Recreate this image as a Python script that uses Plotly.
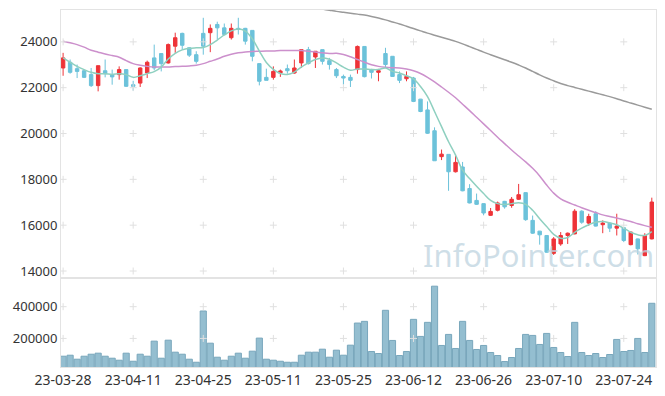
import plotly.graph_objects as go

dates = ["23-03-28","23-03-29","23-03-30","23-03-31","23-04-03","23-04-04","23-04-05","23-04-06","23-04-07","23-04-10",
         "23-04-11","23-04-12","23-04-13","23-04-14","23-04-17","23-04-18","23-04-19","23-04-20","23-04-21","23-04-24",
         "23-04-25","23-04-26","23-04-27","23-04-28","23-05-02","23-05-03","23-05-04","23-05-08","23-05-09","23-05-10",
         "23-05-11","23-05-12","23-05-15","23-05-16","23-05-17","23-05-18","23-05-19","23-05-22","23-05-23","23-05-24",
         "23-05-25","23-05-26","23-05-30","23-05-31","23-06-01","23-06-02","23-06-05","23-06-07","23-06-08","23-06-09",
         "23-06-12","23-06-13","23-06-14","23-06-15","23-06-16","23-06-19","23-06-20","23-06-21","23-06-22","23-06-23",
         "23-06-26","23-06-27","23-06-28","23-06-29","23-06-30","23-07-03","23-07-04","23-07-05","23-07-06","23-07-07",
         "23-07-10","23-07-11","23-07-12","23-07-13","23-07-14","23-07-17","23-07-18","23-07-19","23-07-20","23-07-21",
         "23-07-24","23-07-25","23-07-26","23-07-27","23-07-28"]

open_ = [22860,23110,22830,22740,22570,22090,22740,22570,22570,22790,
         22130,22200,22640,23300,23490,23080,23810,24370,23740,23440,
         24370,24400,24760,24610,24180,24590,24590,24500,23050,22450,
         22450,22640,22830,22640,23080,23660,23340,23660,23180,22790,
         22490,22450,22790,23800,22790,22670,23490,23370,22570,22390,
         22420,21500,21030,20120,18990,19090,18330,18540,17600,17080,
         16940,16430,16650,17040,16860,17130,17420,16210,15740,15550,
         14770,15180,15550,15620,16610,16090,16500,16020,16090,15870,
         15890,15150,15400,14670,15400]
high = [23520,23230,23010,22790,22860,22960,23230,22790,22930,22790,
        22300,22890,23180,23880,23490,23930,24400,24400,23770,23590,
        25050,24760,24880,24800,24800,25050,24610,24500,23050,22830,
        22930,22790,23010,23230,23660,23780,23590,23660,23300,22860,
        22570,22570,23840,23800,22820,22820,23740,23370,22710,22710,
        22470,21510,21400,20270,19300,19090,19100,18760,17790,17380,
        16950,16750,17030,17060,17230,17800,17430,16420,15750,15560,
        15480,15700,15680,16700,16650,16500,16610,16210,16120,16500,
        15900,15720,15420,15650,17200]
low = [22520,22610,22420,22420,22030,21840,22450,22130,22350,22030,
       21870,22030,22420,22760,22710,23050,23520,23660,23340,23050,
       23440,23550,24100,24280,24100,24320,23880,23150,22100,22320,
       22350,22470,22610,22610,22860,23010,22860,23010,22790,22420,
       22130,22030,22610,22450,22400,22280,22860,22470,22200,22280,
       21370,20930,19980,18810,18840,17500,18300,17480,16950,16880,
       16430,16400,16600,16720,16760,17100,16190,15620,15150,14800,
       14700,15100,15180,15600,16060,15970,15940,15650,15700,15550,
       15260,15120,14720,14650,15380]
close = [23300,22670,22710,22450,22090,22960,22610,22470,22790,22060,
         22060,22860,23110,22860,23050,23880,24180,23850,23420,23150,
         23810,24590,24610,24320,24590,24540,24030,23370,22280,22320,
         22710,22730,22740,22860,23660,23050,23590,23150,23010,22520,
         22420,22320,23800,22480,22670,22740,23010,22490,22320,22490,
         21400,20960,20010,18810,19100,18330,18740,17500,16970,16910,
         16530,16600,16970,16800,17130,17330,16240,15650,15580,14820,
         15400,15550,15650,16610,16130,16380,15960,16090,15870,15960,
         15330,15700,14970,15550,17010]
volume = [88000,94300,69000,88000,100600,107000,88000,75300,62700,107000,
          56300,100600,88000,183000,75300,189000,113300,100600,69000,50000,
          372800,170000,81600,62700,88000,107000,75300,119600,202000,69000,
          62700,56300,50000,50000,94300,113300,113300,132300,81600,126000,
          94300,157600,296800,307600,117700,105000,377200,187300,92400,117700,
          320200,212700,301300,529100,155700,225300,136700,307600,187300,130400,
          155700,111400,92400,54400,79800,136700,225300,219000,162000,231600,
          143000,111400,86100,301300,111400,92400,105000,79800,98700,193700,
          117700,124100,200000,111400,421500]

ma5 = [23300,23110,22930,22790,22670,22610,22610,22580,22610,22570,
       22450,22520,22610,22700,22900,23250,23500,23650,23720,23740,
       23750,23880,24080,24300,24480,24560,24470,24130,23600,23100,
       22800,22620,22580,22680,22900,23080,23230,23300,23240,23080,
       22900,22760,22816,22816,22790,22790,22860,22710,22640,22520,
       22380,22050,21610,20960,20300,19640,19060,18400,18035,17700,
       17380,17080,16940,16900,16940,16980,16910,16650,16280,15940,
       15600,15430,15460,15690,15870,16020,16130,16160,16100,16020,
       15870,15690,15580,15550,15720]
ma20 = [24030,23960,23880,23770,23630,23550,23470,23400,23330,23180,
        23050,22980,22930,22900,22900,22900,22920,22930,22950,22980,
        23050,23150,23250,23370,23460,23520,23560,23580,23590,23600,
        23600,23620,23620,23620,23620,23590,23560,23520,23490,23500,
        23450,23350,23230,23110,23000,22930,22890,22870,22860,22820,
        22740,22620,22450,22250,22030,21800,21560,21280,21000,20710,
        20420,20130,19840,19560,19280,19020,18760,18480,18150,17750,
        17400,17150,17000,16880,16760,16650,16550,16450,16380,16310,
        16240,16160,16060,15980,15910]
ma60 = [None]*36 + [25480,25430,25380,25330,25290,25250,25210,25170,25110,25040,
                    24960,24870,24780,24680,24580,24480,24380,24290,24200,24110,
                    24020,23910,23790,23670,23550,23440,23330,23220,23110,22990,
                    22860,22710,22560,22420,22300,22180,22090,22010,21930,21850,
                    21770,21690,21610,21520,21420,21330,21240,21150,21060]

price_ticks = [14000, 16000, 18000, 20000, 22000, 24000]
volume_ticks = [200000, 400000]
x_ticks = dates[::10]

fig = go.Figure()

fig.add_trace(go.Scatter(x=dates, y=ma60, mode="lines", line=dict(color="#9a9a9a", width=1.5, shape="spline"),
                         showlegend=False, hoverinfo="skip", xaxis="x", yaxis="y"))
fig.add_trace(go.Scatter(x=dates, y=ma20, mode="lines", line=dict(color="#cc90cc", width=1.5, shape="spline"),
                         showlegend=False, hoverinfo="skip", xaxis="x", yaxis="y"))

fig.add_trace(go.Candlestick(x=dates, open=open_, high=high, low=low, close=close,
                             increasing=dict(line=dict(color="#ee3338", width=1), fillcolor="#ee3338"),
                             decreasing=dict(line=dict(color="#6cc2da", width=1), fillcolor="#6cc2da"),
                             whiskerwidth=0, showlegend=False, xaxis="x", yaxis="y"))

fig.add_trace(go.Scatter(x=dates, y=ma5, mode="lines", line=dict(color="#8fd0c0", width=1.5, shape="spline"),
                         showlegend=False, hoverinfo="skip", xaxis="x", yaxis="y"))

fig.add_trace(go.Bar(x=dates, y=volume, width=0.88,
                     marker=dict(color="rgba(148,190,208,1)", line=dict(color="#79a7bc", width=1)),
                     showlegend=False, xaxis="x2", yaxis="y2"))

grid_mark = dict(symbol="cross-thin", size=5, color="#e0e0e0", line=dict(color="#e0e0e0", width=1))
fig.add_trace(go.Scatter(x=[d for d in x_ticks for _ in price_ticks], y=[p for _ in x_ticks for p in price_ticks],
                         mode="markers", marker=grid_mark, hoverinfo="skip", showlegend=False, xaxis="x", yaxis="y"))
fig.add_trace(go.Scatter(x=[d for d in x_ticks for _ in volume_ticks], y=[v for _ in x_ticks for v in volume_ticks],
                         mode="markers", marker=grid_mark, hoverinfo="skip", showlegend=False, xaxis="x2", yaxis="y2"))

font_family = "Noto Sans, Open Sans, sans-serif"
axis_common = dict(showline=True, mirror=True, linecolor="#e3e3e3", linewidth=1, showgrid=False, zeroline=False,
                   ticks="", automargin=False)

# the page body has a default 8px margin, so the figure is sized to fit the window from (8, 8)
fig.update_layout(
    width=657, height=388,
    margin=dict(l=53, r=9, t=2, b=29),
    paper_bgcolor="white", plot_bgcolor="white",
    font=dict(family=font_family, size=13, color="#333333"),
    xaxis=dict(type="category", categoryorder="array", categoryarray=dates, range=[-0.3, 84.6], anchor="y",
               showticklabels=False, rangeslider=dict(visible=False), **axis_common),
    xaxis2=dict(type="category", categoryorder="array", categoryarray=dates, range=[-0.3, 84.6], anchor="y2",
                matches="x", tickmode="array", tickvals=x_ticks, ticktext=x_ticks, tickangle=0,
                tickfont=dict(size=14, color="#333333"), **axis_common),
    yaxis=dict(domain=[0.249, 1], range=[13690, 25390], tickmode="array", tickvals=price_ticks,
               ticktext=[str(v) for v in price_ticks], tickfont=dict(size=13, color="#333333"), **axis_common),
    yaxis2=dict(domain=[0, 0.249], range=[20000, 580000], tickmode="array", tickvals=volume_ticks,
                ticktext=[str(v) for v in volume_ticks], tickfont=dict(size=13, color="#333333"), **axis_common),
    annotations=[dict(text="InfoPointer.com", xref="paper", yref="paper", x=0.802, y=0.314,
                      xanchor="center", yanchor="middle",
                      showarrow=False, font=dict(family=font_family, size=31, color="rgba(190,212,224,0.75)"))],
    hovermode=False,
)

fig.write_html("out.html")
